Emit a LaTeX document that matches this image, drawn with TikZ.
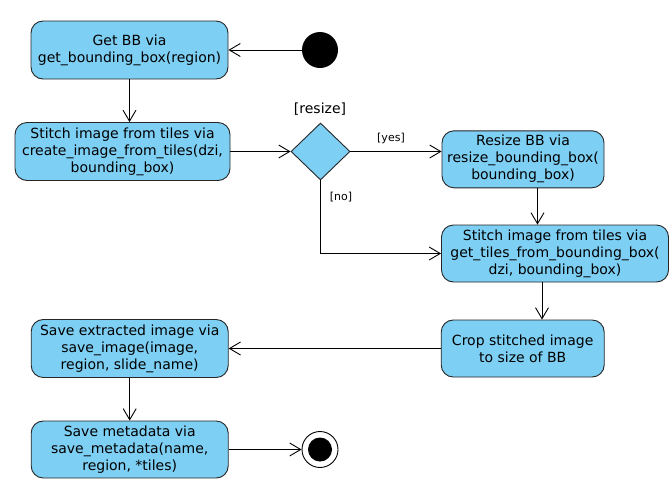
\documentclass[tikz,border=0pt]{standalone}
\usepackage{fontspec}
\setmainfont{DejaVu Sans}
\usepackage{tikz}
\usetikzlibrary{shapes.geometric,arrows.meta}
\definecolor{actfill}{RGB}{126,207,244}
\begin{document}
\begin{tikzpicture}[x=1pt,y=-1pt,line width=0.9pt]
\tikzstyle{every node}+=[inner sep=0pt]
\tikzstyle{act}=[draw=black!85,fill=actfill,rounded corners=12pt,align=center,font=\fontsize{14}{17}\selectfont,minimum height=57pt]
\tikzstyle{flow}=[draw=black,-{Straight Barb[length=11pt,width=13pt]}]
\tikzstyle{guard}=[font=\fontsize{11}{13}\selectfont]
\useasboundingbox (0,0) rectangle (672,485);
\node [act,minimum width=197pt,minimum height=58pt] (getbb) at (129.5,50) {Get BB via\\get\_bounding\_box(region)};
\node [circle,fill=black,minimum size=36pt] (start) at (320,50) {};
\node [act,minimum width=215pt,minimum height=58pt] (stitcha) at (122.5,151.5) {Stitch image from tiles via\\create\_image\_from\_tiles(dzi,\\bounding\_box)};
\node [diamond,draw=black!85,fill=actfill,minimum width=59pt,minimum height=57pt] (resize) at (320.5,151.5) {};
\node [font=\fontsize{14}{17}\selectfont] (resizelbl) at (320,109) {[resize]};
\node [act,minimum width=162pt] (resizebb) at (523,159.3) {Resize BB via\\resize\_bounding\_box(\\bounding\_box)};
\node [act,minimum width=227pt] (stitchb) at (555,253.5) {Stitch image from tiles via\\get\_tiles\_from\_bounding\_box(\\dzi, bounding\_box)};
\node [act,minimum width=163pt] (crop) at (522.7,348.5) {Crop stitched image\\to size of BB};
\node [act,minimum width=197pt,minimum height=58pt] (saveimg) at (129.7,348.5) {Save extracted image via\\save\_image(image,\\region, slide\_name)};
\node [act,minimum width=197pt] (savemeta) at (129.7,449.5) {Save metadata via\\save\_metadata(name,\\region, *tiles)};
\node [circle,draw=black,fill=white,minimum size=36pt] (end) at (320,449.5) {};
\node [circle,fill=black,minimum size=24pt] at (end) {};
\draw [flow] (start) -- (getbb);
\draw [flow] (getbb.south) -- (getbb.south |- stitcha.north);
\draw [flow] (stitcha) -- (resize);
\draw [flow] (resize.east) -- (resize.east -| resizebb.west);
\node [guard] (yes) at (391,138) {[yes]};
\draw [flow] ([xshift=14.5pt]resizebb.south) -- ([xshift=14.5pt]resizebb.south |- stitchb.north);
\draw [flow] (resize.south) |- (stitchb.west);
\node [guard] (no) at (341,197) {[no]};
\draw [flow] ([xshift=-13pt]stitchb.south) -- ([xshift=-13pt]stitchb.south |- crop.north);
\draw [flow] (crop) -- (saveimg);
\draw [flow] (saveimg) -- (savemeta);
\draw [flow] (savemeta) -- (end);
\end{tikzpicture}
\end{document}
